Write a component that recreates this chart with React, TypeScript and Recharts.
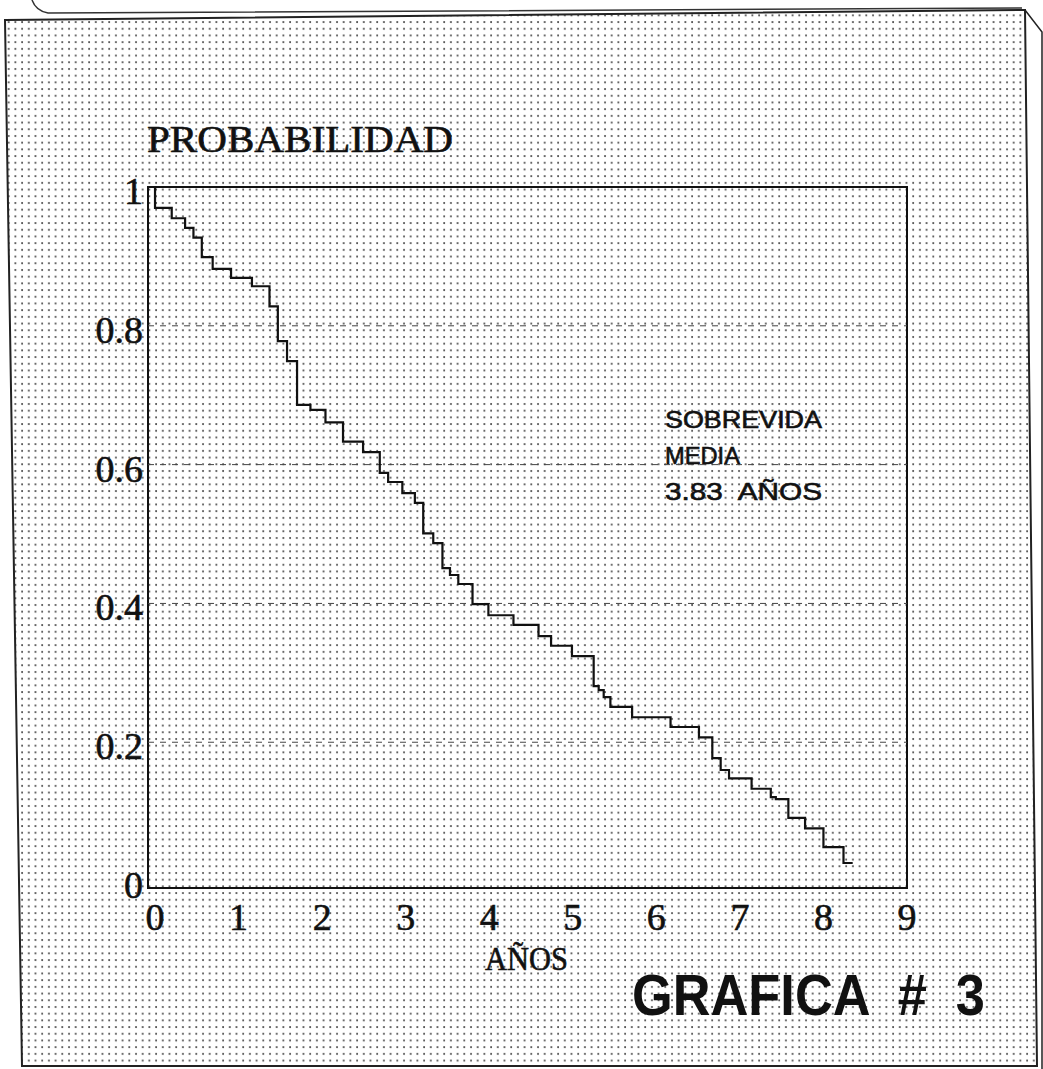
import { LineChart, Line, XAxis, YAxis, ReferenceLine, ReferenceArea } from "recharts";

// Kaplan-Meier style survival steps (years, probability)
const survTimes = [
  0, 0, 0.2, 0.36, 0.46, 0.56, 0.69, 0.91, 1.16, 1.37, 1.47, 1.58, 1.7, 1.86,
  2.04, 2.25, 2.49, 2.69, 2.79, 2.96, 3.11, 3.21, 3.33, 3.44, 3.53, 3.63, 3.8,
  3.99, 4.29, 4.59, 4.74, 4.99, 5.25, 5.31, 5.37, 5.45, 5.71, 6.17, 6.51, 6.67,
  6.77, 6.87, 7.14, 7.37, 7.43, 7.58, 7.78, 8.0, 8.24, 8.35,
];
const survProb = [
  1, 0.97, 0.955, 0.941, 0.927, 0.899, 0.882, 0.869, 0.857, 0.828, 0.778,
  0.749, 0.686, 0.679, 0.661, 0.633, 0.618, 0.588, 0.575, 0.559, 0.545, 0.501,
  0.487, 0.451, 0.441, 0.428, 0.399, 0.383, 0.369, 0.353, 0.339, 0.324, 0.281,
  0.275, 0.265, 0.251, 0.236, 0.222, 0.207, 0.177, 0.16, 0.148, 0.133, 0.121,
  0.118, 0.091, 0.076, 0.049, 0.026, 0.026,
];

const xTicks = [0, 1, 2, 3, 4, 5, 6, 7, 8, 9];
const yTicks = [0, 0.2, 0.4, 0.6, 0.8, 1];
const yTickLabels = ["0", "0.2", "0.4", "0.6", "0.8", "1"];
const gridLevels = [0.2, 0.4, 0.6, 0.8];

const xDomain = [-0.084, 9];
const yDomain = [-0.01, 1];

const data = survTimes.map((t, i) => ({ t, p: survProb[i] }));

const SERIF = "'Liberation Serif', 'DejaVu Serif', serif";
const SANS = "'Liberation Sans', Arial, sans-serif";

// photocopy look: slightly thickened glyphs
const ink = { fill: "#111", stroke: "#111", strokeWidth: 0.6 };

const XTick = ({ x, y, payload }: any) => (
  <text x={x} y={y + 40} textAnchor="middle" fontFamily={SERIF} fontSize={38} {...ink}>
    {payload.value}
  </text>
);

const YTick = ({ x, y, payload }: any) => {
  const i = yTicks.indexOf(payload.value);
  return (
    <text x={x} y={y + 17} textAnchor="end" fontFamily={SERIF} fontSize={38} {...ink}>
      {yTickLabels[i]}
    </text>
  );
};

export default function App() {
  return (
    <div style={{ position: "absolute", left: 0, top: 0, width: 1043, height: 1069, background: "#fff" }}>
      {/* scanned page: dotted paper and border */}
      <svg width={1043} height={1069} style={{ position: "absolute", left: 0, top: 0 }}>
        <defs>
          <pattern id="dots" width={6.7} height={6.7} patternUnits="userSpaceOnUse">
            <circle cx={2} cy={2} r={1} fill="#444" />
          </pattern>
        </defs>
        <path d="M 32 0 Q 36 11 48 13 L 1022 8" fill="none" stroke="#333" strokeWidth={1.5} />
        <path d="M 5 20 L 1025 10 L 1037 1066 L 22 1066 Z" fill="url(#dots)" stroke="#222" strokeWidth={2} />
        <path d="M 1025 10 L 1042 32 L 1042 1069" fill="none" stroke="#222" strokeWidth={1.5} />

        <text x={147} y={152} fontFamily={SERIF} fontSize={38} {...ink} textLength={306} lengthAdjust="spacingAndGlyphs">
          PROBABILIDAD
        </text>
        <text x={485} y={970} fontFamily={SERIF} fontSize={34} {...ink} textLength={83} lengthAdjust="spacingAndGlyphs">
          AÑOS
        </text>
        <text x={632} y={1015} fontFamily={SANS} fontSize={58} fontWeight={700} fill="#111" textLength={353} lengthAdjust="spacingAndGlyphs" style={{ whiteSpace: "pre" }}>
          {"GRAFICA  #  3"}
        </text>
        <text x={665} y={428} fontFamily={SANS} fontSize={23} {...ink} textLength={157} lengthAdjust="spacingAndGlyphs">
          SOBREVIDA
        </text>
        <text x={665} y={464} fontFamily={SANS} fontSize={23} {...ink} textLength={75} lengthAdjust="spacingAndGlyphs">
          MEDIA
        </text>
        <text x={665} y={500} fontFamily={SANS} fontSize={23} {...ink} textLength={157} lengthAdjust="spacingAndGlyphs" style={{ whiteSpace: "pre" }}>
          {"3.83  AÑOS"}
        </text>
      </svg>

      <div style={{ position: "absolute", left: 0, top: 0 }}>
        <LineChart
          width={1043}
          height={1069}
          data={data}
          margin={{ top: 187, right: 136, bottom: 121, left: 48 }}
        >
          <XAxis
            dataKey="t"
            type="number"
            domain={xDomain}
            ticks={xTicks}
            allowDataOverflow
            axisLine={false}
            tickLine={false}
            tickSize={0}
            height={60}
            tick={<XTick />}
            interval={0}
          />
          <YAxis
            type="number"
            domain={yDomain}
            ticks={yTicks}
            allowDataOverflow
            axisLine={false}
            tickLine={false}
            tickSize={5}
            tickMargin={0}
            width={100}
            tick={<YTick />}
            interval={0}
          />
          {gridLevels.map((v) => (
            <ReferenceLine key={v} y={v} stroke="#444" strokeWidth={1} strokeDasharray="6 6" />
          ))}
          <ReferenceArea
            x1={xDomain[0]}
            x2={9}
            y1={yDomain[0]}
            y2={1}
            fill="none"
            stroke="#111"
            strokeWidth={2}
          />
          <Line
            type="stepAfter"
            dataKey="p"
            stroke="#111"
            strokeWidth={2.2}
            dot={false}
            isAnimationActive={false}
          />
        </LineChart>
      </div>
    </div>
  );
}
